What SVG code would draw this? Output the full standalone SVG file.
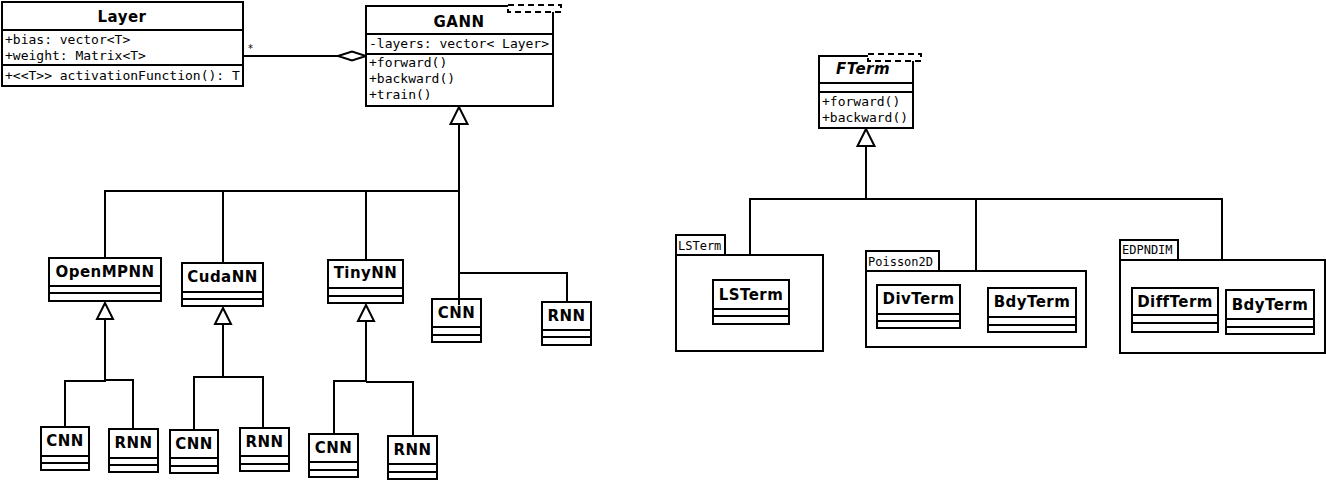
<svg xmlns="http://www.w3.org/2000/svg" width="1326" height="481" viewBox="0 0 1326 481">
<style>
.bg{fill:#fff}
.box{fill:#fff;stroke:#000;stroke-width:2}
.ln{stroke:#000;stroke-width:2;fill:none}
.dash{fill:#fff;stroke:#000;stroke-width:2;stroke-dasharray:6,4}
.t{font-family:"DejaVu Sans",sans-serif;font-weight:bold;font-size:15px;letter-spacing:0.45px;text-anchor:middle;fill:#000}
.ti{font-family:"DejaVu Sans",sans-serif;font-weight:bold;font-style:italic;font-size:15px;letter-spacing:0.45px;text-anchor:middle;fill:#000}
.m{font-family:"DejaVu Sans Mono",monospace;font-size:13px;fill:#000}
.p{font-family:"DejaVu Sans Mono",monospace;font-size:12px;fill:#000}
.s{font-family:"DejaVu Sans",sans-serif;font-size:10px;fill:#000}
.tri{fill:#fff;stroke:#000;stroke-width:2}
</style>
<rect class="bg" x="0" y="0" width="1326" height="481"/>

<g id="connectors">
  <line class="ln" x1="243" y1="56" x2="338" y2="56"/>
  <polygon class="tri" points="338,56 352,51.5 366,56 352,60.5"/>
  <text class="s" x="248" y="52">*</text>
  <polyline class="ln" points="459,125 459,305"/>
  <polyline class="ln" points="105,258 105,191 459,191"/>
  <line class="ln" x1="223" y1="191" x2="223" y2="263"/>
  <line class="ln" x1="366" y1="191" x2="366" y2="259"/>
  <polyline class="ln" points="459,273 567,273 567,302"/>
  <polygon class="tri" points="459,107 450.5,124 467.5,124"/>
  <polyline class="ln" points="65,427 65,381 105,381 105,320"/>
  <polyline class="ln" points="105,380 133,380 133,429"/>
  <polygon class="tri" points="105,303 97,319 113,319"/>
  <polyline class="ln" points="194,430 194,377 263,377 263,427"/>
  <line class="ln" x1="223" y1="377" x2="223" y2="325"/>
  <polygon class="tri" points="223,308 215,324 231,324"/>
  <polyline class="ln" points="334,433 334,381 366,381 366,322"/>
  <polyline class="ln" points="366,382 413,382 413,436"/>
  <polygon class="tri" points="366,305 358,321 374,321"/>
  <line class="ln" x1="866" y1="146" x2="866" y2="199"/>
  <polyline class="ln" points="750,255 750,199 1222,199 1222,260"/>
  <line class="ln" x1="976" y1="199" x2="976" y2="271"/>
  <polygon class="tri" points="866,129 857.5,146 874.5,146"/>
</g>

<g id="Layer">
  <rect class="box" x="2" y="2" width="241" height="84"/>
  <line class="ln" x1="2" y1="30" x2="243" y2="30"/>
  <line class="ln" x1="2" y1="65" x2="243" y2="65"/>
  <text class="t" x="122" y="22">Layer</text>
  <text class="m" x="5" y="44">+bias: vector&lt;T&gt;</text>
  <text class="m" x="5" y="60">+weight: Matrix&lt;T&gt;</text>
  <text class="m" x="5" y="80">+&lt;&lt;T&gt;&gt; activationFunction(): T</text>
</g>

<g id="GANN">
  <rect class="box" x="366" y="6" width="187" height="100"/>
  <line class="ln" x1="366" y1="34" x2="553" y2="34"/>
  <line class="ln" x1="366" y1="54" x2="553" y2="54"/>
  <rect class="dash" x="508" y="5" width="53" height="7"/>
  <text class="t" x="459" y="27">GANN</text>
  <text class="m" x="369" y="48">-layers: vector&lt; Layer&gt;</text>
  <text class="m" x="369" y="67">+forward()</text>
  <text class="m" x="369" y="83">+backward()</text>
  <text class="m" x="369" y="99">+train()</text>
</g>

<g id="OpenMPNN">
  <rect class="box" x="49" y="258" width="112" height="43"/>
  <line class="ln" x1="49" y1="286" x2="161" y2="286"/>
  <line class="ln" x1="49" y1="293" x2="161" y2="293"/>
  <text class="t" x="105" y="277">OpenMPNN</text>
</g>
<g id="CudaNN">
  <rect class="box" x="182" y="263" width="81" height="43"/>
  <line class="ln" x1="182" y1="292" x2="263" y2="292"/>
  <line class="ln" x1="182" y1="299" x2="263" y2="299"/>
  <text class="t" x="222.5" y="282">CudaNN</text>
</g>
<g id="TinyNN">
  <rect class="box" x="328" y="260" width="75" height="43"/>
  <line class="ln" x1="328" y1="288" x2="403" y2="288"/>
  <line class="ln" x1="328" y1="296" x2="403" y2="296"/>
  <text class="t" x="365.5" y="278">TinyNN</text>
</g>
<g id="CNN_GANN">
  <rect class="box" x="432" y="299" width="49" height="43" fill-opacity="0"/>
  <line class="ln" x1="432" y1="327" x2="481" y2="327"/>
  <line class="ln" x1="432" y1="335" x2="481" y2="335"/>
  <text class="t" x="456.5" y="318">CNN</text>
</g>
<g id="RNN_GANN">
  <rect class="box" x="542" y="302" width="49" height="43"/>
  <line class="ln" x1="542" y1="330" x2="591" y2="330"/>
  <line class="ln" x1="542" y1="337" x2="591" y2="337"/>
  <text class="t" x="566.5" y="321">RNN</text>
</g>

<g id="CNN_OpenMP">
  <rect class="box" x="41" y="427" width="48" height="43"/>
  <line class="ln" x1="41" y1="456" x2="89" y2="456"/>
  <line class="ln" x1="41" y1="463" x2="89" y2="463"/>
  <text class="t" x="65" y="446">CNN</text>
</g>
<g id="RNN_OpenMP">
  <rect class="box" x="109" y="429" width="49" height="43"/>
  <line class="ln" x1="109" y1="458" x2="158" y2="458"/>
  <line class="ln" x1="109" y1="465" x2="158" y2="465"/>
  <text class="t" x="133.5" y="448">RNN</text>
</g>
<g id="CNN_Cuda">
  <rect class="box" x="170" y="430" width="48" height="43"/>
  <line class="ln" x1="170" y1="458" x2="218" y2="458"/>
  <line class="ln" x1="170" y1="466" x2="218" y2="466"/>
  <text class="t" x="194" y="449">CNN</text>
</g>
<g id="RNN_Cuda">
  <rect class="box" x="240" y="428" width="49" height="43"/>
  <line class="ln" x1="240" y1="456" x2="289" y2="456"/>
  <line class="ln" x1="240" y1="464" x2="289" y2="464"/>
  <text class="t" x="264.5" y="447">RNN</text>
</g>
<g id="CNN_Tiny">
  <rect class="box" x="309" y="434" width="49" height="43"/>
  <line class="ln" x1="309" y1="462" x2="358" y2="462"/>
  <line class="ln" x1="309" y1="470" x2="358" y2="470"/>
  <text class="t" x="333.5" y="453">CNN</text>
</g>
<g id="RNN_Tiny">
  <rect class="box" x="388" y="436" width="49" height="43"/>
  <line class="ln" x1="388" y1="464" x2="437" y2="464"/>
  <line class="ln" x1="388" y1="472" x2="437" y2="472"/>
  <text class="t" x="412.5" y="455">RNN</text>
</g>

<g id="FTerm">
  <rect class="box" x="819" y="56" width="94" height="72"/>
  <line class="ln" x1="819" y1="83" x2="913" y2="83"/>
  <line class="ln" x1="819" y1="92" x2="913" y2="92"/>
  <rect class="dash" x="868" y="54" width="53" height="7"/>
  <text class="ti" x="863" y="74">FTerm</text>
  <text class="m" x="822" y="106">+forward()</text>
  <text class="m" x="822" y="122">+backward()</text>
</g>

<g id="pkg_LSTerm">
  <rect class="box" x="676" y="235" width="49" height="20"/>
  <rect class="box" x="676" y="255" width="147" height="96"/>
  <text class="p" x="678" y="250">LSTerm</text>
  <g id="LSTerm">
    <rect class="box" x="713" y="280" width="76" height="44"/>
    <line class="ln" x1="713" y1="309" x2="789" y2="309"/>
    <line class="ln" x1="713" y1="316" x2="789" y2="316"/>
    <text class="t" x="751" y="300">LSTerm</text>
  </g>
</g>

<g id="pkg_Poisson2D">
  <rect class="box" x="866" y="251" width="73" height="20"/>
  <rect class="box" x="866" y="271" width="220" height="76"/>
  <text class="p" x="868" y="266">Poisson2D</text>
  <g id="DivTerm">
    <rect class="box" x="877" y="285" width="83" height="43"/>
    <line class="ln" x1="877" y1="314" x2="960" y2="314"/>
    <line class="ln" x1="877" y1="321" x2="960" y2="321"/>
    <text class="t" x="918.5" y="304">DivTerm</text>
  </g>
  <g id="BdyTerm_P">
    <rect class="box" x="988" y="288" width="88" height="44"/>
    <line class="ln" x1="988" y1="317" x2="1076" y2="317"/>
    <line class="ln" x1="988" y1="325" x2="1076" y2="325"/>
    <text class="t" x="1032" y="307">BdyTerm</text>
  </g>
</g>

<g id="pkg_EDPNDIM">
  <rect class="box" x="1120" y="240" width="58" height="20"/>
  <rect class="box" x="1120" y="260" width="205" height="93"/>
  <text class="p" x="1122" y="254">EDPNDIM</text>
  <g id="DiffTerm">
    <rect class="box" x="1132" y="288" width="86" height="44"/>
    <line class="ln" x1="1132" y1="315" x2="1218" y2="315"/>
    <line class="ln" x1="1132" y1="323" x2="1218" y2="323"/>
    <text class="t" x="1175" y="307">DiffTerm</text>
  </g>
  <g id="BdyTerm_E">
    <rect class="box" x="1226" y="290" width="88" height="44"/>
    <line class="ln" x1="1226" y1="319" x2="1314" y2="319"/>
    <line class="ln" x1="1226" y1="327" x2="1314" y2="327"/>
    <text class="t" x="1270" y="310">BdyTerm</text>
  </g>
</g>
</svg>
